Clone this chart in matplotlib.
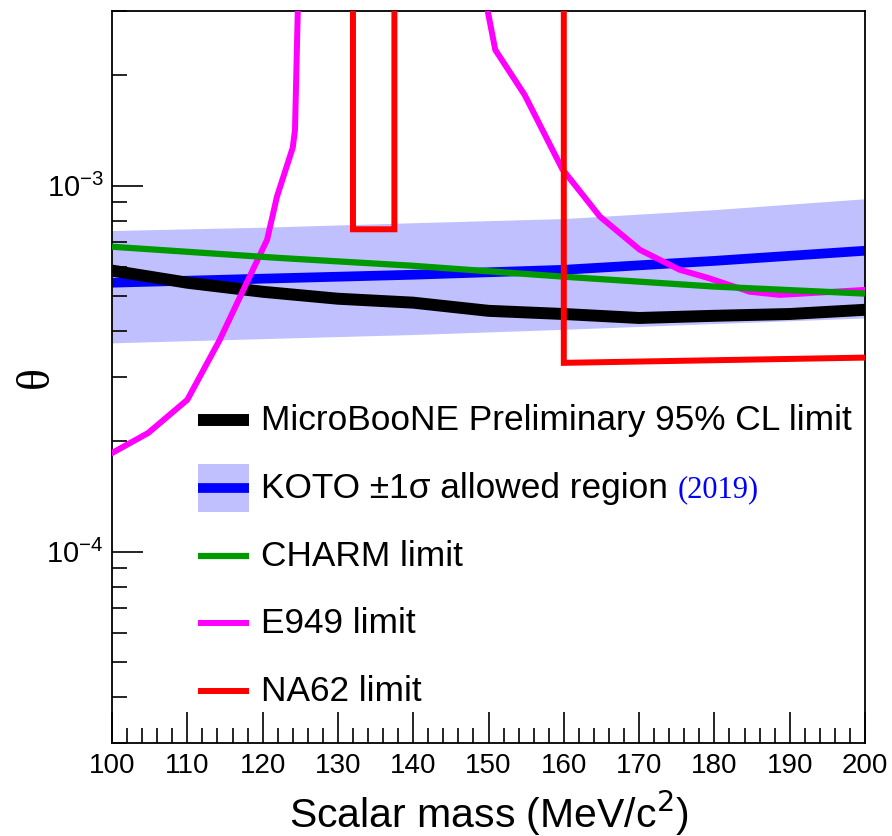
import matplotlib
matplotlib.use('Agg')
import matplotlib.pyplot as plt
from matplotlib.ticker import MultipleLocator, LogLocator, NullFormatter

plt.rcParams['font.family'] = ['Liberation Sans', 'DejaVu Sans']

# 1. Data
# MicroBooNE preliminary 95% CL limit
ub_x = [100, 110, 120, 130, 140, 150, 160, 170, 180, 190, 200]
ub_y = [5.86e-4, 5.43e-4, 5.13e-4, 4.91e-4, 4.79e-4, 4.55e-4, 4.46e-4, 4.35e-4, 4.41e-4, 4.46e-4, 4.58e-4]

# KOTO central value and +-1 sigma band
koto_x = [100, 120, 140, 160, 180, 200]
koto_y = [5.43e-4, 5.57e-4, 5.71e-4, 5.89e-4, 6.23e-4, 6.64e-4]
koto_hi = [7.54e-4, 7.70e-4, 7.92e-4, 8.13e-4, 8.60e-4, 9.21e-4]
koto_lo = [3.72e-4, 3.82e-4, 3.92e-4, 4.05e-4, 4.20e-4, 4.35e-4]

# CHARM limit
charm_x = [100, 122, 140, 160, 180, 200]
charm_y = [6.81e-4, 6.35e-4, 6.04e-4, 5.64e-4, 5.30e-4, 5.07e-4]

# E949 limit (two branches that leave through the top)
e949_left_x = [100, 104.8, 110.0, 114.3, 120.6, 121.9, 124.0, 124.3, 124.7]
e949_left_y = [1.86e-4, 2.11e-4, 2.60e-4, 3.79e-4, 7.12e-4, 9.33e-4, 1.27e-3, 1.42e-3, 3.2e-3]
e949_right_x = [149.5, 150.9, 154.8, 159.8, 164.8, 170.1, 175.4, 179.0, 184.7, 188.7, 200]
e949_right_y = [3.3e-3, 2.35e-3, 1.77e-3, 1.11e-3, 8.23e-4, 6.68e-4, 5.89e-4, 5.61e-4, 5.13e-4, 5.03e-4, 5.19e-4]

# NA62 limit
na62_x = [132, 132, 137.5, 137.5, 160, 160, 200]
na62_y = [1e-2, 7.6e-4, 7.6e-4, 1e-2, 1e-2, 3.28e-4, 3.39e-4]

legend_labels = ['MicroBooNE Preliminary 95% CL limit', 'KOTO \u00b11\u03c3 allowed region',
                 'CHARM limit', 'E949 limit', 'NA62 limit']

c_band = '#c0c0ff'
c_blue = '#0000ff'
c_green = '#009900'
c_mag = '#ff00ff'
c_red = '#ff0000'

# 2. Figure
fig = plt.figure(figsize=(8.92, 8.36), dpi=100)
ax = fig.add_axes([0.1256, 0.1112, 0.8441, 0.8756])

ax.fill_between(koto_x, koto_lo, koto_hi, color=c_band, lw=0, zorder=1)
ax.plot(koto_x, koto_y, color=c_blue, lw=7, solid_capstyle='butt', zorder=2)
ax.plot(ub_x, ub_y, color='black', lw=8.6, solid_capstyle='butt', zorder=3)
ax.plot(e949_left_x, e949_left_y, color=c_mag, lw=4.3, zorder=4)
ax.plot(e949_right_x, e949_right_y, color=c_mag, lw=4.3, zorder=4)
ax.plot(charm_x, charm_y, color=c_green, lw=4.5, solid_capstyle='butt', zorder=5)
ax.plot(na62_x, na62_y, color=c_red, lw=4.3, solid_joinstyle='miter', zorder=6)

ax.set_xlim(100, 200)
ax.set_yscale('log')
ax.set_ylim(3e-5, 3e-3)

# Axes style (ROOT-like)
ax.xaxis.set_major_locator(MultipleLocator(10))
ax.xaxis.set_minor_locator(MultipleLocator(2))
ax.yaxis.set_major_locator(LogLocator(base=10))
ax.yaxis.set_minor_locator(LogLocator(base=10, subs=range(2, 10)))
ax.yaxis.set_minor_formatter(NullFormatter())
ax.tick_params(which='both', direction='in', top=False, right=False, width=1.2)
ax.tick_params(which='major', length=22)
ax.tick_params(which='minor', length=11)
ax.tick_params(axis='x', labelsize=20, pad=7)
ax.tick_params(axis='y', labelsize=21, pad=6)
for s in ax.spines.values():
    s.set_linewidth(1.3)

ax.set_xlabel('Scalar mass (MeV/c$^{2}$)', fontsize=29.5, labelpad=7)
fig.text(0.0415, 0.549, '\u03b8', fontsize=33, rotation=90, family='Liberation Serif',
         ha='center', va='center')

# 3. Legend drawn by hand
hx0, hx1, tx = 0.1142, 0.1820, 0.1979
rows = [0.4413, 0.3484, 0.2555, 0.1639, 0.0710]
ax.fill_between([hx0, hx1], 0.3156, 0.3811, transform=ax.transAxes, color=c_band, lw=0, zorder=7)
handles = [('black', 8.6), (c_blue, 7), (c_green, 4.5), (c_mag, 4.3), (c_red, 4.3)]
for (col, lw), yy, lab in zip(handles, rows, legend_labels):
    ax.plot([hx0, hx1], [yy, yy], transform=ax.transAxes, color=col, lw=lw,
            solid_capstyle='butt', zorder=8)
    t = ax.text(tx, yy, lab, transform=ax.transAxes, fontsize=25.4, va='center', zorder=8)
    if lab.startswith('KOTO'):
        ax.annotate('(2019)', xy=(1, 0), xycoords=t, xytext=(7, 0), textcoords='offset points',
                    fontsize=22, color=c_blue, family='Liberation Serif', va='bottom')

plt.savefig('out.png', dpi=100)
